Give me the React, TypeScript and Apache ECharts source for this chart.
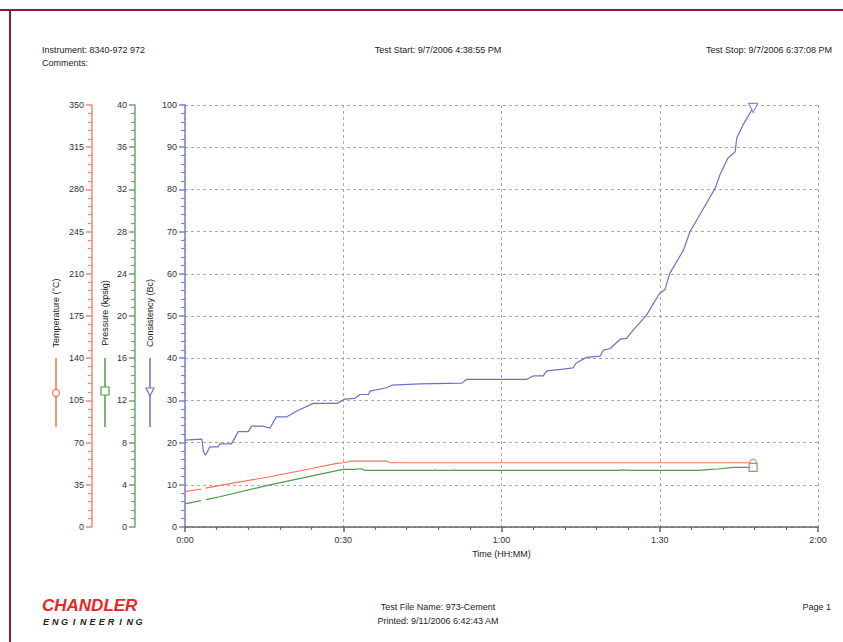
import React, { useEffect, useRef } from "react";
import * as echarts from "echarts";

// ---------- data ----------
const consTime = [0, 3.2, 3.5, 3.9, 4.7, 6.3, 6.6, 8.8, 10.1, 12.0, 12.6, 14.8, 16.1, 17.3, 19.3, 21.2, 24.3, 28.8, 30.3, 32.2, 33.2, 34.8, 35.1, 38.2, 39.2, 44.5, 52.5, 53.4, 64.8, 66.0, 67.9, 68.6, 71.7, 73.6, 74.1, 76.1, 78.7, 79.3, 80.6, 82.5, 83.7, 85.0, 87.5, 88.8, 90.0, 91.0, 91.9, 94.5, 95.7, 99.0, 100.5, 101.4, 102.9, 104.3, 104.6, 105.8, 107.1, 107.7];
const consValue = [20.6, 20.8, 17.8, 17.0, 19.0, 19.0, 19.7, 19.7, 22.6, 22.6, 23.9, 23.9, 23.4, 26.1, 26.1, 27.5, 29.3, 29.3, 30.3, 30.5, 31.4, 31.4, 32.2, 33.0, 33.6, 33.9, 34.1, 35.0, 35.0, 35.8, 35.8, 37.0, 37.4, 37.7, 38.8, 40.2, 40.5, 41.9, 42.3, 44.5, 44.7, 46.7, 50.2, 53.0, 55.4, 56.3, 60.1, 65.6, 69.9, 77.0, 80.3, 83.4, 87.4, 88.9, 92.2, 95.3, 98.1, 99.3];

const tempTime = [0, 3.1, 3.5, 3.9, 8.0, 16.1, 24.0, 28.8, 30.0, 31.6, 38.2, 38.9, 107.7];
const tempValue = [29.3, 31.5, null, 32.3, 35.5, 41.7, 48.5, 52.8, 53.3, 54.7, 54.7, 53.3, 53.3];

const presTime = [0, 3.0, 3.5, 4.0, 6.0, 16.1, 28.8, 30.0, 31.9, 33.5, 34.1, 47.0, 47.4, 47.8, 50.6, 51.0, 51.4, 82.5, 83.0, 84.0, 97.6, 99.5, 101.0, 103.9, 107.7];
const presValue = [2.2, 2.5, null, 2.6, 2.8, 4.0, 5.34, 5.47, 5.47, 5.52, 5.36, 5.36, 5.42, 5.36, 5.36, 5.42, 5.36, 5.36, 5.42, 5.36, 5.36, 5.47, 5.5, 5.66, 5.66];

const xTicks = [0, 30, 60, 90, 120];

const headerLeft = ["Instrument: 8340-972 972", "Comments:"];
const headerCenter = "Test Start: 9/7/2006 4:38:55 PM";
const headerRight = "Test Stop: 9/7/2006 6:37:08 PM";
const footerCenter = ["Test File Name: 973-Cement", "Printed: 9/11/2006 6:42:43 AM"];
const footerRight = "Page 1";
const axisTitles = ["Temperature (°C)", "Pressure (kpsig)", "Consistency (Bc)"];

const TEMP_C = "#f27457";
const PRES_C = "#4f9a50";
const CONS_C = "#6a72c8";
const TEMP_AX = "#f58a72";
const PRES_AX = "#6aaa6a";
const CONS_AX = "#7880d0";
const FONT = "'Liberation Sans', Arial, sans-serif";

function zip(t: number[], v: (number | null)[]) {
  return t.map((x, i) => [x, v[i] === null ? "-" : v[i]]);
}

export default function App() {
  const ref = useRef<HTMLDivElement>(null);
  useEffect(() => {
    if (!ref.current) return;
    const chart = echarts.init(ref.current, undefined, { renderer: "svg" });
    const fmt = (v: number) => `${Math.floor(v / 60)}:${String(Math.round(v % 60)).padStart(2, "0")}`;
    const label = { color: "#333", fontSize: 9, fontFamily: FONT };

    const yAxisBase = (min: number, max: number, interval: number, color: string, offset: number, grid: boolean) => ({
      type: "value",
      position: "left",
      offset,
      min,
      max,
      interval,
      axisLine: { show: true, lineStyle: { color, width: 1.5 } },
      axisTick: { show: true, length: 6, lineStyle: { color, width: 1.5 } },
      minorTick: { show: true, splitNumber: 5, length: 4, lineStyle: { color, width: 1.2 } },
      axisLabel: { ...label, margin: 8 },
      splitLine: { show: grid, lineStyle: { color: "#aaa", type: [3, 3], width: 1 } },
    });

    const graphics: any[] = [];
    // page border
    graphics.push({ type: "line", shape: { x1: 0, y1: 10, x2: 843, y2: 10 }, style: { stroke: "#8e1b3b", lineWidth: 2 } });
    graphics.push({ type: "line", shape: { x1: 10, y1: 10, x2: 10, y2: 642 }, style: { stroke: "#8e1b3b", lineWidth: 2 } });
    const txt = (text: string, x: number, y: number, align: string, extra: any = {}) => ({
      type: "text",
      x,
      y,
      ...extra,
      style: { text, fill: "#222", font: `9px ${FONT}`, textAlign: align, textVerticalAlign: "middle", ...(extra.style || {}) },
    });
    graphics.push(txt(headerLeft[0], 42, 50, "left"));
    graphics.push(txt(headerLeft[1], 42, 63, "left"));
    graphics.push(txt(headerCenter, 438, 50, "center"));
    graphics.push(txt(headerRight, 832, 50, "right"));
    graphics.push(txt(footerCenter[0], 438, 607, "center"));
    graphics.push(txt(footerCenter[1], 438, 621, "center"));
    graphics.push(txt(footerRight, 831, 607, "right"));
    graphics.push({
      type: "text",
      x: 42,
      y: 605,
      style: { text: "CHANDLER", fill: "#e8262a", font: `italic bold 17px 'Liberation Sans', Arial, sans-serif`, textAlign: "left", textVerticalAlign: "middle" },
    });
    const eng = "ENGINEERING".split("");
    eng.forEach((ch, i) => {
      graphics.push({
        type: "text",
        x: 46 + i * 9.3,
        y: 622,
        style: { text: ch, fill: "#222", font: `italic bold 9px 'Liberation Sans', Arial, sans-serif`, textAlign: "center", textVerticalAlign: "middle" },
      });
    });
    // axis titles (rotated)
    const titleX = [56, 105, 150];
    const colors = [TEMP_C, PRES_C, CONS_C];
    axisTitles.forEach((t, i) => {
      graphics.push(txt(t, titleX[i], 313, "center", { rotation: Math.PI / 2 }));
      graphics.push({ type: "line", shape: { x1: titleX[i], y1: 358, x2: titleX[i], y2: 427 }, style: { stroke: colors[i], lineWidth: 1.5 } });
    });
    graphics.push({ type: "circle", shape: { cx: titleX[0], cy: 393, r: 3.5 }, style: { fill: "#fff", stroke: TEMP_C, lineWidth: 1.2 } });
    graphics.push({ type: "rect", shape: { x: titleX[1] - 4, y: 387, width: 8, height: 8 }, style: { fill: "#fff", stroke: PRES_C, lineWidth: 1.2 } });
    graphics.push({
      type: "polygon",
      shape: { points: [[titleX[2] - 4, 388], [titleX[2] + 4, 388], [titleX[2], 396]] },
      style: { fill: "#fff", stroke: CONS_C, lineWidth: 1.2 },
    });

    const lastOf = (t: number[], v: (number | null)[]) => [[t[t.length - 1], v[v.length - 1]]];

    chart.setOption({
      animation: false,
      backgroundColor: "#fff",
      grid: { left: 185, right: 25, top: 105, bottom: 115, containLabel: false },
      xAxis: {
        type: "value",
        min: 0,
        max: 120,
        interval: 30,
        name: "Time (HH:MM)",
        nameLocation: "middle",
        nameGap: 22,
        nameTextStyle: { color: "#222", fontSize: 9, fontFamily: FONT },
        axisLine: { show: true, lineStyle: { color: "#666", width: 1.5 } },
        axisTick: { show: true, length: 5, lineStyle: { color: "#666", width: 1.5 } },
        minorTick: { show: true, splitNumber: 5, length: 3, lineStyle: { color: "#666", width: 1.2 } },
        axisLabel: { ...label, margin: 8, formatter: (v: number) => (xTicks.includes(v) ? fmt(v) : "") },
        splitLine: { show: true, lineStyle: { color: "#aaa", type: [3, 3], width: 1 } },
      },
      yAxis: [
        yAxisBase(0, 100, 10, CONS_AX, 0, true),
        yAxisBase(0, 40, 4, PRES_AX, 50, false),
        yAxisBase(0, 350, 35, TEMP_AX, 93, false),
      ],
      graphic: graphics,
      series: [
        { type: "line", yAxisIndex: 2, data: zip(tempTime, tempValue), symbol: "none", lineStyle: { color: TEMP_C, width: 1.2 }, z: 3 },
        { type: "line", yAxisIndex: 1, data: zip(presTime, presValue), symbol: "none", lineStyle: { color: PRES_C, width: 1.2 }, z: 3 },
        { type: "line", yAxisIndex: 0, data: zip(consTime, consValue), symbol: "none", lineStyle: { color: CONS_C, width: 1.2 }, z: 3 },
        { type: "scatter", yAxisIndex: 2, data: lastOf(tempTime, tempValue), symbol: "circle", symbolSize: 7, itemStyle: { color: "#fff", borderColor: TEMP_C, borderWidth: 1.2 }, z: 4 },
        { type: "scatter", yAxisIndex: 1, data: lastOf(presTime, presValue), symbol: "rect", symbolSize: 8, itemStyle: { color: "#fff", borderColor: PRES_C, borderWidth: 1.2 }, z: 4 },
        { type: "scatter", yAxisIndex: 0, data: lastOf(consTime, consValue), symbol: "triangle", symbolRotate: 180, symbolSize: 9, itemStyle: { color: "#fff", borderColor: CONS_C, borderWidth: 1.2 }, z: 4 },
      ],
    });
    return () => chart.dispose();
  }, []);
  return <div ref={ref} style={{ position: "absolute", left: 0, top: 0, width: 843, height: 642 }} />;
}
